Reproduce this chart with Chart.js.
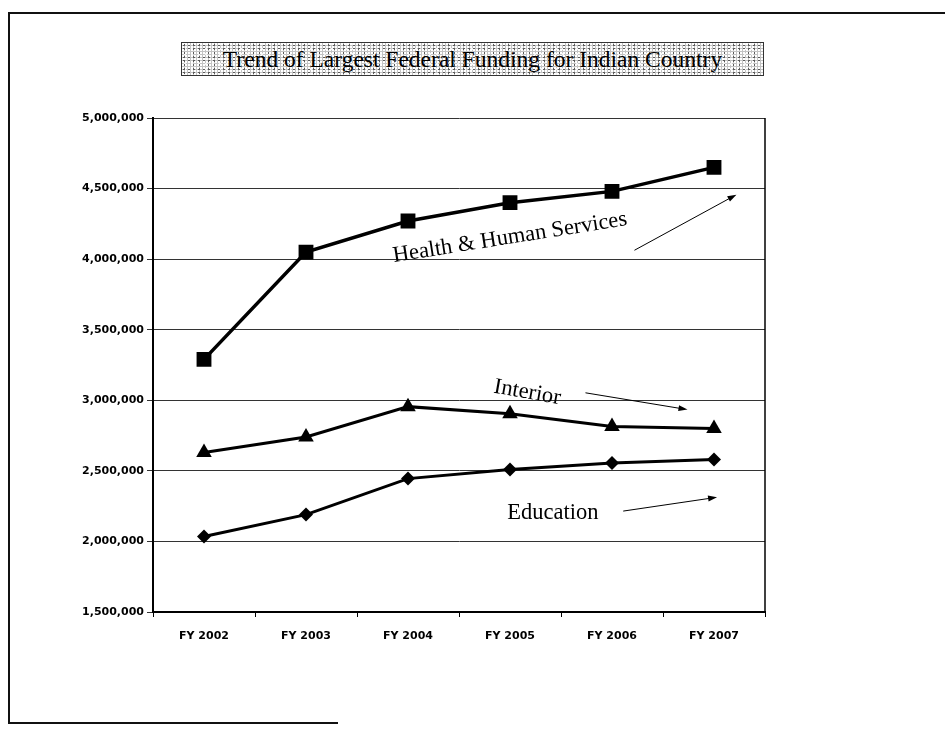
<!DOCTYPE html>
<html>
<head>
<meta charset="utf-8">
<script src="https://cdn.jsdelivr.net/npm/chart.js@4.4.1/dist/chart.umd.min.js"></script>
<style>
html,body{margin:0;padding:0;background:#fff;width:945px;height:731px;overflow:hidden;}
#wrap{position:relative;width:945px;height:731px;}
#chart{position:absolute;left:0;top:0;}
.fl{position:absolute;left:8px;top:12px;width:2px;height:712px;background:#111;}
.ft{position:absolute;left:8px;top:12px;width:937px;height:2px;background:#111;}
.fb{position:absolute;left:8px;top:722px;width:330px;height:2px;background:#111;}
#title{position:absolute;left:181px;top:42px;width:583px;height:34px;box-sizing:border-box;border:1px solid #333;
  background-color:#c4c4c4;
  background-image:
    radial-gradient(circle at 1px 1px,#ffffff 0.9px,transparent 1.2px),
    radial-gradient(circle at 2px 2px,#5a5a5a 0.8px,transparent 1.1px),
    radial-gradient(circle at 3px 1px,#f4f4f4 0.9px,transparent 1.2px);
  background-size:3px 3px,5px 4px,7px 5px;
  font-family:"Liberation Serif","Times New Roman",serif;font-size:23.5px;line-height:32px;text-align:center;color:#000;white-space:nowrap;}
</style>
</head>
<body>
<div id="wrap">
  <canvas id="chart" width="945" height="731"></canvas>
  <div class="fl"></div><div class="ft"></div><div class="fb"></div>
  <div id="title">Trend of Largest Federal Funding for Indian Country</div>
</div>
<script>
// ---- data ----
const categories = ['FY 2002', 'FY 2003', 'FY 2004', 'FY 2005', 'FY 2006', 'FY 2007'];
const hhsValues = [3290000, 4050000, 4270000, 4400000, 4480000, 4650000];
const interiorValues = [2630000, 2740000, 2955000, 2905000, 2815000, 2800000];
const educationValues = [2035000, 2190000, 2445000, 2510000, 2555000, 2580000];
const yTickValues = [1500000, 2000000, 2500000, 3000000, 3500000, 4000000, 4500000, 5000000];
const seriesNames = ['Health & Human Services', 'Interior', 'Education'];

// ---- annotation placement (data coordinates) ----
const noteTexts = ['Health & Human Services', 'Interior', 'Education'];
const noteX = [3.0, 3.17, 3.42];
const noteY = [4152000, 3055000, 2200000];
const noteAngle = [-9, 10, 0];
const arrowFromX = [4.22, 3.74, 4.11];
const arrowFromY = [4063000, 3053000, 2215000];
const arrowToX = [5.22, 4.74, 5.03];
const arrowToY = [4457000, 2934000, 2313000];

const annotPlugin = {
  id: 'annot',
  beforeDatasetsDraw(chart) {
    const a = chart.chartArea, ctx = chart.ctx;
    ctx.save();
    ctx.strokeStyle = '#000';
    ctx.lineWidth = 1.5;
    ctx.beginPath();
    ctx.moveTo(a.right, a.top);
    ctx.lineTo(a.right, a.bottom);
    ctx.stroke();
    ctx.restore();
  },
  afterDatasetsDraw(chart) {
    const ctx = chart.ctx, xs = chart.scales.x, ys = chart.scales.y;
    ctx.save();
    ctx.fillStyle = '#000';
    ctx.font = '22.5px "Liberation Serif", "Times New Roman", serif';
    ctx.textAlign = 'center';
    ctx.textBaseline = 'middle';
    for (let i = 0; i < noteTexts.length; i++) {
      const px = xs.getPixelForValue(noteX[i]);
      const py = ys.getPixelForValue(noteY[i]);
      ctx.save();
      ctx.translate(px, py);
      ctx.rotate(noteAngle[i] * Math.PI / 180);
      ctx.fillText(noteTexts[i], 0, 0);
      ctx.restore();
    }
    ctx.strokeStyle = '#000';
    ctx.lineWidth = 1;
    for (let i = 0; i < arrowFromX.length; i++) {
      const x1 = xs.getPixelForValue(arrowFromX[i]);
      const y1 = ys.getPixelForValue(arrowFromY[i]);
      const x2 = xs.getPixelForValue(arrowToX[i]);
      const y2 = ys.getPixelForValue(arrowToY[i]);
      const ang = Math.atan2(y2 - y1, x2 - x1);
      ctx.beginPath();
      ctx.moveTo(x1, y1);
      ctx.lineTo(x2 - 6 * Math.cos(ang), y2 - 6 * Math.sin(ang));
      ctx.stroke();
      ctx.beginPath();
      ctx.moveTo(x2, y2);
      ctx.lineTo(x2 - 9 * Math.cos(ang) + 3 * Math.sin(ang), y2 - 9 * Math.sin(ang) - 3 * Math.cos(ang));
      ctx.lineTo(x2 - 9 * Math.cos(ang) - 3 * Math.sin(ang), y2 - 9 * Math.sin(ang) + 3 * Math.cos(ang));
      ctx.closePath();
      ctx.fill();
    }
    ctx.restore();
  }
};

const tickFont = { family: '"DejaVu Sans", Arial, sans-serif', size: 11, weight: 'bold' };

new Chart(document.getElementById('chart'), {
  type: 'line',
  data: {
    labels: categories,
    datasets: [
      { label: seriesNames[0], data: hhsValues, borderColor: '#000', backgroundColor: '#000', borderWidth: 3.5,
        pointStyle: 'rect', pointRadius: 10.5, pointHoverRadius: 10.5, pointBackgroundColor: '#000', pointBorderColor: '#000', pointBorderWidth: 0 },
      { label: seriesNames[1], data: interiorValues, borderColor: '#000', backgroundColor: '#000', borderWidth: 3,
        pointStyle: 'triangle', pointRadius: 9, pointHoverRadius: 9, pointBackgroundColor: '#000', pointBorderColor: '#000', pointBorderWidth: 0 },
      { label: seriesNames[2], data: educationValues, borderColor: '#000', backgroundColor: '#000', borderWidth: 3,
        pointStyle: 'rectRot', pointRadius: 7, pointHoverRadius: 7, pointBackgroundColor: '#000', pointBorderColor: '#000', pointBorderWidth: 0 }
    ]
  },
  options: {
    responsive: false,
    animation: false,
    devicePixelRatio: 1,
    layout: { padding: { left: 0, right: 180, top: 118, bottom: 79 } },
    plugins: { legend: { display: false }, title: { display: false }, tooltip: { enabled: false } },
    elements: { line: { tension: 0 } },
    scales: {
      x: {
        type: 'category',
        offset: true,
        grid: { display: true, drawOnChartArea: false, drawTicks: true, tickLength: 5, offset: true, color: '#000', lineWidth: 1 },
        border: { display: true, color: '#000', width: 2 },
        ticks: { color: '#000', font: tickFont, padding: 13, maxRotation: 0, autoSkip: false },
        afterFit(s) { s.height = 40; }
      },
      y: {
        type: 'linear',
        min: yTickValues[0],
        max: yTickValues[yTickValues.length - 1],
        afterBuildTicks(s) { s.ticks = yTickValues.map(v => ({ value: v })); },
        grid: { color: '#333', lineWidth: 1, drawTicks: true, tickLength: 6 },
        border: { display: true, color: '#000', width: 2 },
        ticks: { color: '#000', font: tickFont, padding: 3,
          callback: v => Number(v).toLocaleString('en-US') },
        afterFit(s) { s.width = 153; }
      }
    }
  },
  plugins: [annotPlugin]
});
</script>
</body>
</html>
